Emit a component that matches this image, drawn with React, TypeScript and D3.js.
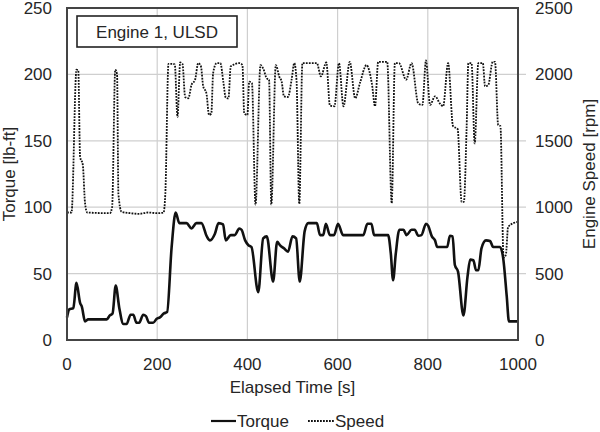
import React from 'react';
import * as d3 from 'd3';

// torque trace [s, lb-ft]
const torqueTime = [0, 5, 14, 21, 29, 33, 40, 47, 88, 95, 101, 108, 116, 125, 132, 141, 147, 154, 160, 169, 175, 182, 191, 199, 206, 215, 222, 232, 241, 249, 265, 276, 287, 298, 310, 317, 328, 336, 346, 352, 363, 372, 382, 387, 395, 402, 409, 424, 435, 443, 457, 466, 472, 481, 490, 500, 508, 516, 527, 535, 554, 561, 568, 574, 583, 592, 601, 612, 657, 666, 675, 681, 712, 718, 723, 729, 737, 746, 753, 764, 771, 779, 786, 796, 801, 809, 816, 821, 843, 849, 855, 860, 867, 879, 888, 894, 901, 907, 912, 919, 929, 938, 945, 960, 967, 975, 980, 1000];
const torqueValues = [17, 23, 24, 43, 28, 25, 14, 15.5, 15.5, 18.5, 20, 41, 24, 12, 12, 19, 19, 13, 13, 19, 18, 13, 13, 16, 17, 20, 21, 70, 96, 88, 88, 84, 88, 88, 78, 75, 80, 88, 87, 75, 79, 79, 84, 83, 75, 71.5, 70, 36, 76.5, 78, 44, 74, 71.5, 69, 66.5, 78, 76.5, 44, 82, 88, 88, 79, 79, 87.5, 79, 79, 87.5, 79, 79, 87.5, 87.5, 79, 79, 65, 45, 65, 83, 83, 79, 83, 83, 78.5, 79, 87.5, 86, 78, 75, 70, 70, 78.5, 78, 56.5, 51.5, 18.5, 47.5, 60.5, 60, 52.5, 52.5, 69, 75, 74.5, 70, 70, 62, 33, 14, 14];

// engine speed trace [s, rpm]
const speedTime = [0, 10, 21, 25, 29, 35, 40, 45, 95, 100, 107, 111, 114, 121, 140, 160, 180, 200, 214, 218, 225, 233, 239, 245, 251, 256, 262, 269, 276, 284, 291, 297, 302, 309, 315, 320, 324, 332, 340, 347, 352, 358, 363, 383, 389, 393, 400, 404, 410, 418, 429, 435, 443, 448, 453, 463, 471, 476, 481, 490, 498, 504, 509, 515, 522, 554, 563, 575, 583, 593, 603, 613, 627, 639, 650, 664, 676, 683, 690, 710, 720, 727, 736, 752, 764, 779, 788, 796, 805, 816, 827, 834, 845, 856, 866, 875, 880, 886, 890, 897, 904, 912, 922, 927, 934, 944, 949, 956, 961, 968, 973, 978, 990, 1000];
const speedValues = [960, 960, 2035, 2030, 1380, 1320, 1030, 960, 955, 1000, 2035, 2000, 1100, 965, 955, 950, 960, 955, 960, 1100, 2080, 2080, 2075, 1680, 2090, 2080, 1830, 1820, 1920, 1960, 2085, 2060, 1910, 1860, 1695, 1705, 2010, 2085, 2085, 1935, 1825, 1820, 2060, 2085, 2070, 1705, 1695, 1945, 1935, 1020, 2070, 2045, 1970, 1960, 1020, 2070, 1980, 1945, 1835, 1830, 1960, 2085, 1950, 1025, 2085, 2085, 1985, 2090, 1765, 1760, 2085, 1760, 2095, 1820, 1940, 2070, 1930, 1760, 2095, 2095, 1030, 2085, 2085, 1960, 2085, 1780, 1770, 2105, 1770, 1835, 1780, 1760, 2085, 1610, 1590, 1040, 1040, 1590, 2085, 2085, 1480, 2085, 2085, 1910, 1920, 2095, 2095, 1620, 1610, 620, 640, 850, 880, 890];

const xTicks = [0, 200, 400, 600, 800, 1000];
const torqueTicks = [0, 50, 100, 150, 200, 250];
const speedTicks = [0, 500, 1000, 1500, 2000, 2500];

const W = 600;
const H = 432;
const m = { left: 67, right: 82, top: 8, bottom: 92 };
const font = 'Liberation Sans, Arial, sans-serif';
const ink = '#262626';

export default function App() {
  const iw = W - m.left - m.right;
  const ih = H - m.top - m.bottom;
  const x = d3.scaleLinear().domain([0, 1000]).range([m.left, m.left + iw]);
  const yT = d3.scaleLinear().domain([0, 250]).range([m.top + ih, m.top]);
  const yS = d3.scaleLinear().domain([0, 2500]).range([m.top + ih, m.top]);

  const torqueLine = d3.line<number>()
    .x((d, i) => x(torqueTime[i]))
    .y(d => yT(d))
    .curve(d3.curveMonotoneX);
  const speedLine = d3.line<number>()
    .x((d, i) => x(speedTime[i]))
    .y(d => yS(d))
    .curve(d3.curveMonotoneX);

  const x0 = m.left, x1 = m.left + iw, y0 = m.top + ih, y1 = m.top;

  return (
    <svg width={W} height={H} style={{ position: 'fixed', left: 0, top: 0, background: '#fff' }} fontFamily={font}>
      {/* grid */}
      {xTicks.slice(1, -1).map(t => (
        <line key={'gx' + t} x1={x(t)} x2={x(t)} y1={y1} y2={y0} stroke="#cfcfcf" strokeWidth={1.2} />
      ))}
      {torqueTicks.slice(1, -1).map(t => (
        <line key={'gy' + t} x1={x0} x2={x1 + 8} y1={yT(t)} y2={yT(t)} stroke="#cfcfcf" strokeWidth={1.2} />
      ))}

      {/* traces */}
      <path d={speedLine(speedValues) || ''} fill="none" stroke="#111" strokeWidth={1.8} strokeDasharray="1.8,1.2" />
      <path d={torqueLine(torqueValues) || ''} fill="none" stroke="#111" strokeWidth={2.6} strokeLinejoin="round" />

      {/* frame */}
      <rect x={x0} y={y1} width={iw} height={ih} fill="none" stroke="#444" strokeWidth={2} />

      {/* annotation box */}
      <rect x={77} y={16} width={160} height={31} fill="#fff" stroke="#222" strokeWidth={1.6} />
      <text x={157} y={38} textAnchor="middle" fontSize={17} fill={ink}>Engine 1, ULSD</text>

      {/* left axis */}
      {torqueTicks.map(t => (
        <text key={'lt' + t} x={52} y={yT(t)} dy="0.35em" textAnchor="end" fontSize={17} fill={ink}>{t}</text>
      ))}
      <text transform={`translate(15,${(y0 + y1) / 2}) rotate(-90)`} textAnchor="middle" fontSize={17} fill={ink}>Torque [lb-ft]</text>

      {/* right axis */}
      {speedTicks.map(t => (
        <text key={'rt' + t} x={535} y={yS(t)} dy="0.35em" textAnchor="start" fontSize={17} fill={ink}>{t}</text>
      ))}
      <text transform={`translate(595,${(y0 + y1) / 2}) rotate(-90)`} textAnchor="middle" fontSize={17} fill={ink}>Engine Speed [rpm]</text>

      {/* x axis */}
      {xTicks.map(t => (
        <text key={'xt' + t} x={x(t)} y={370} textAnchor="middle" fontSize={17} fill={ink}>{t}</text>
      ))}
      <text x={(x0 + x1) / 2} y={393} textAnchor="middle" fontSize={17} fill={ink}>Elapsed Time [s]</text>

      {/* legend */}
      <line x1={211} x2={236} y1={421} y2={421} stroke="#111" strokeWidth={2.2} />
      <text x={237} y={427} fontSize={17} fill={ink}>Torque</text>
      <line x1={308} x2={334} y1={421} y2={421} stroke="#111" strokeWidth={1.8} strokeDasharray="1.8,1.2" />
      <text x={335} y={427} fontSize={17} fill={ink}>Speed</text>
    </svg>
  );
}
